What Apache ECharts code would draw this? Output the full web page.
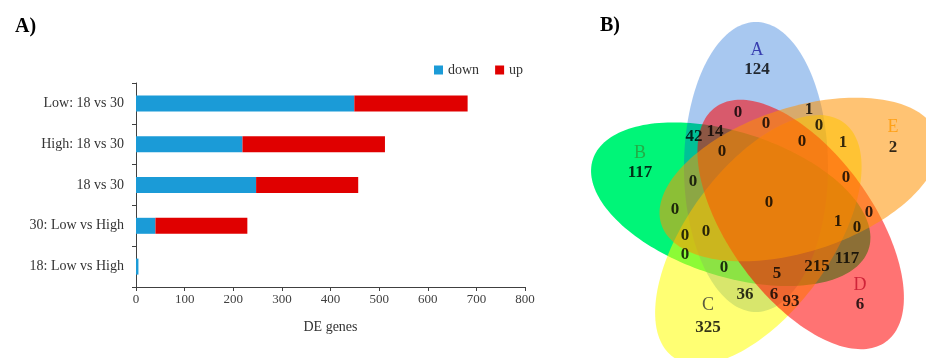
<!DOCTYPE html>
<html>
<head>
<meta charset="utf-8">
<title>DE genes</title>
<script src="https://cdn.jsdelivr.net/npm/echarts@6/dist/echarts.min.js"></script>
<style>
  html, body { margin: 0; padding: 0; background: #fff; }
  #chart { width: 926px; height: 358px; }
</style>
</head>
<body>
<div id="chart"></div>
<script>
// A) stacked bars
const comparisons = ['Low: 18 vs 30', 'High: 18 vs 30', '18 vs 30', '30: Low vs High', '18: Low vs High'];
const downGenes = [449, 219, 247, 40, 5];
const upGenes = [233, 293, 210, 189, 0];

// B) venn: sets, their own counts, and the overlap counts
const setNames = ['A', 'B', 'C', 'D', 'E'];
const setOnly = [124, 117, 325, 6, 2];
const overlapCounts = [0, 1, 0, 0, 42, 14, 0, 1, 0, 0, 0, 0, 0, 0, 1, 0, 0, 0, 0, 117, 0, 215, 5, 36, 6, 93];

// layout of the venn (units = px, origin at the middle of the flower, y down)
const setTurn = { A: 0, E: 1, D: 2, C: 3, B: 4 };      // steps of 72 deg
const drawOrder = ['B', 'A', 'C', 'D', 'E'];
const setFill = {
  A: 'rgba(0,93,211,0.34)',
  B: '#00f578',
  C: 'rgba(255,255,0,0.55)',
  D: 'rgba(255,0,0,0.55)',
  E: 'rgba(255,145,0,0.55)',
};
const setTextColor = { A: '#1c1ca0', B: '#2a9a3a', C: '#333333', D: '#c4102a', E: '#ff9900' };
const PETAL = { dx: -13, dy: -36, a: 145, b: 72 };
const nameSpots = [[-12, -153], [-129, -50], [-61, 102], [91, 82], [124, -76]];
const onlySpots = [[-12, -133], [-129, -30], [-61, 125], [91, 102], [124, -55]];
const overlapSpots = [
  [-31, -90], [40, -93], [-3, -79], [50, -77], [-75, -66], [-54, -71], [33, -61], [74, -60],
  [-47, -51], [-76, -21], [77, -25], [0, 0], [-94, 7], [100, 10], [69, 19], [-63, 29],
  [-84, 33], [88, 25], [-84, 52], [78, 56], [-45, 65], [48, 64], [8, 71], [-24, 92],
  [5, 92], [22, 99],
];

const FONT = 'Liberation Serif';

function renderPetal(params, api) {
  const turn = api.value(0) * 72 * Math.PI / 180;
  const cos = Math.cos(turn), sin = Math.sin(turn);
  const cx = PETAL.dx * cos - PETAL.dy * sin;
  const cy = PETAL.dx * sin + PETAL.dy * cos;
  const ux = sin, uy = -cos;   // long axis
  const vx = cos, vy = sin;    // short axis
  const points = [];
  for (let t = 0; t < 360; t += 2) {
    const r = t * Math.PI / 180;
    const x = cx + PETAL.a * Math.cos(r) * ux + PETAL.b * Math.sin(r) * vx;
    const y = cy + PETAL.a * Math.cos(r) * uy + PETAL.b * Math.sin(r) * vy;
    points.push(api.coord([x, y]));
  }
  return {
    type: 'polygon',
    shape: { points },
    style: { fill: setFill[drawOrder[params.dataIndex]] },
  };
}

const chart = echarts.init(document.getElementById('chart'));

chart.setOption({
  animation: false,
  textStyle: { fontFamily: FONT },
  title: [
    { text: 'A)', left: 10, top: 12, textStyle: { fontFamily: FONT, fontSize: 20, fontWeight: 'bold', color: '#000' } },
    { text: 'B)', left: 595, top: 11, textStyle: { fontFamily: FONT, fontSize: 20, fontWeight: 'bold', color: '#000' } },
  ],
  legend: {
    data: ['down', 'up'],
    left: 434,
    top: 63,
    padding: 0,
    itemGap: 16,
    itemWidth: 9,
    itemHeight: 9,
    icon: 'rect',
    textStyle: { fontFamily: FONT, fontSize: 14, color: '#333' },
  },
  grid: [
    { left: 136, top: 83, width: 389, height: 204, outerBoundsMode: 'none' },
    { left: 580, top: 0, width: 346, height: 358, outerBoundsMode: 'none' },
  ],
  xAxis: [
    {
      gridIndex: 0,
      type: 'value',
      min: 0,
      max: 800,
      interval: 100,
      name: 'DE genes',
      nameLocation: 'middle',
      nameGap: 33,
      nameTextStyle: { fontFamily: FONT, fontSize: 14, color: '#333' },
      splitLine: { show: false },
      axisLine: { show: true, lineStyle: { color: '#404040' } },
      axisTick: { show: true, length: 4, lineStyle: { color: '#404040' } },
      axisLabel: { fontFamily: FONT, fontSize: 13, color: '#404040', margin: 6 },
    },
    { gridIndex: 1, type: 'value', min: -189, max: 157, show: false },
  ],
  yAxis: [
    {
      gridIndex: 0,
      type: 'category',
      data: comparisons,
      inverse: true,
      axisLine: { show: true, lineStyle: { color: '#404040' } },
      axisTick: { show: true, length: 4, lineStyle: { color: '#404040' } },
      axisLabel: { fontFamily: FONT, fontSize: 14, color: '#333', margin: 12 },
    },
    { gridIndex: 1, type: 'value', min: -203, max: 155, inverse: true, show: false },
  ],
  series: [
    {
      name: 'down',
      type: 'bar',
      stack: 'genes',
      barWidth: 16,
      itemStyle: { color: '#1b9bd7' },
      data: downGenes,
    },
    {
      name: 'up',
      type: 'bar',
      stack: 'genes',
      barWidth: 16,
      itemStyle: { color: '#e00000' },
      data: upGenes,
    },
    {
      type: 'custom',
      xAxisIndex: 1,
      yAxisIndex: 1,
      silent: true,
      renderItem: renderPetal,
      encode: { x: 0, y: 0 },
      data: drawOrder.map((s) => [setTurn[s]]),
    },
    {
      type: 'scatter',
      xAxisIndex: 1,
      yAxisIndex: 1,
      symbolSize: 0,
      silent: true,
      label: {
        show: true,
        position: 'inside',
        fontFamily: FONT,
        fontSize: 18,
        formatter: (p) => p.name,
      },
      data: setNames.map((s, i) => ({
        name: s,
        value: nameSpots[i],
        label: { color: setTextColor[s] },
      })),
    },
    {
      type: 'scatter',
      xAxisIndex: 1,
      yAxisIndex: 1,
      symbolSize: 0,
      silent: true,
      label: {
        show: true,
        position: 'inside',
        fontFamily: FONT,
        fontSize: 17,
        fontWeight: 'bold',
        color: '#000',
        formatter: (p) => String(p.value[2]),
      },
      data: setOnly.map((v, i) => [onlySpots[i][0], onlySpots[i][1], v])
        .concat(overlapCounts.map((v, i) => [overlapSpots[i][0], overlapSpots[i][1], v])),
    },
  ],
});
</script>
</body>
</html>
